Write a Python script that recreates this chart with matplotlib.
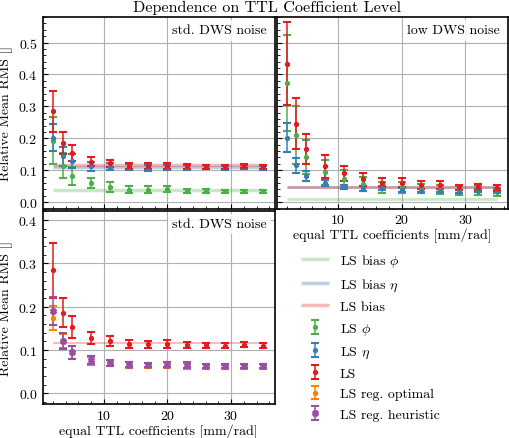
import matplotlib
matplotlib.use("Agg")
import matplotlib.pyplot as plt
import matplotlib.ticker as mticker

plt.rcParams["font.family"] = "serif"
plt.rcParams["font.serif"] = ["cmr10", "DejaVu Serif"]
plt.rcParams["mathtext.fontset"] = "cm"
plt.rcParams["axes.formatter.use_mathtext"] = True
plt.rcParams["font.size"] = 10
plt.rcParams["axes.linewidth"] = 1.2

# ── Data ─────────────────────────────────────────────────────────────────────
TTL = [2, 3.5, 5, 8, 11, 14, 17, 20, 23, 26, 29, 32, 35]

# std. DWS noise
STD_LS = [0.284, 0.186, 0.153, 0.127, 0.121, 0.114, 0.113, 0.113, 0.112, 0.111, 0.110, 0.112, 0.110]
STD_LS_ERR = [0.063, 0.034, 0.025, 0.014, 0.011, 0.010, 0.008, 0.009, 0.007, 0.006, 0.006, 0.006, 0.006]
STD_ETA = [0.202, 0.143, 0.130, 0.112, 0.111, 0.109, 0.107, 0.109, 0.109, 0.109, 0.107, 0.109, 0.108]
STD_ETA_ERR = [0.043, 0.030, 0.022, 0.014, 0.010, 0.009, 0.009, 0.008, 0.007, 0.006, 0.007, 0.006, 0.006]
STD_PHI = [0.193, 0.114, 0.081, 0.060, 0.048, 0.039, 0.039, 0.040, 0.035, 0.035, 0.034, 0.034, 0.034]
STD_PHI_ERR = [0.073, 0.040, 0.028, 0.016, 0.015, 0.010, 0.010, 0.009, 0.006, 0.006, 0.005, 0.005, 0.005]
STD_OPT = [0.174, 0.121, 0.094, 0.075, 0.069, 0.065, 0.064, 0.065, 0.063, 0.062, 0.061, 0.062, 0.062]
STD_OPT_ERR = [0.027, 0.016, 0.016, 0.009, 0.007, 0.006, 0.005, 0.006, 0.006, 0.005, 0.005, 0.005, 0.005]
STD_HEU = [0.190, 0.120, 0.095, 0.076, 0.070, 0.066, 0.065, 0.066, 0.065, 0.063, 0.0625, 0.063, 0.063]
STD_HEU_ERR = [0.033, 0.019, 0.015, 0.009, 0.007, 0.006, 0.005, 0.006, 0.006, 0.005, 0.005, 0.005, 0.005]
STD_BIAS = 0.116
STD_BIAS_ETA = 0.111
STD_BIAS_PHI = 0.037

# low DWS noise
LOW_LS = [0.434, 0.245, 0.166, 0.112, 0.090, 0.072, 0.061, 0.061, 0.054, 0.053, 0.046, 0.048, 0.045]
LOW_LS_ERR = [0.129, 0.080, 0.046, 0.035, 0.024, 0.020, 0.014, 0.014, 0.013, 0.012, 0.009, 0.010, 0.009]
LOW_ETA = [0.202, 0.115, 0.082, 0.059, 0.048, 0.043, 0.043, 0.038, 0.036, 0.036, 0.033, 0.036, 0.035]
LOW_ETA_ERR = [0.046, 0.024, 0.017, 0.010, 0.007, 0.007, 0.006, 0.006, 0.005, 0.005, 0.005, 0.005, 0.005]
LOW_PHI = [0.374, 0.211, 0.141, 0.093, 0.073, 0.058, 0.045, 0.046, 0.042, 0.039, 0.035, 0.037, 0.032]
LOW_PHI_ERR = [0.150, 0.091, 0.054, 0.040, 0.027, 0.022, 0.017, 0.018, 0.015, 0.015, 0.014, 0.014, 0.013]
LOW_BIAS = 0.048
LOW_BIAS_ETA = 0.048
LOW_BIAS_PHI = 0.009

# ── Style ─────────────────────────────────────────────────────────────────────
C_RED = "#e41a1c"
C_BLUE = "#377eb8"
C_GREEN = "#4daf4a"
C_ORANGE = "#ff7f00"
C_PURPLE = "#984ea3"

EB = dict(fmt="o", markersize=2.8, capsize=2.8, capthick=1.5, elinewidth=1.1, linestyle="none")

W, H = 509, 439
fig = plt.figure(figsize=(W / 100, H / 100), dpi=100)


def px_axes(x0, x1, y0, y1, **kw):
    return fig.add_axes([x0 / W, 1 - y1 / H, (x1 - x0) / W, (y1 - y0) / H], **kw)


ax_tl = px_axes(42.5, 275, 18, 209.5)
ax_tr = px_axes(277, 508, 18, 209.5, sharey=ax_tl)
ax_bl = px_axes(42.5, 275, 211.5, 405, sharex=ax_tl)


def bias_lines(ax, b_phi, b_eta, b_ls, lw):
    ax.hlines(b_phi, TTL[0], TTL[-1], color=C_GREEN, alpha=0.3, lw=lw, label=r"LS bias $\phi$")
    ax.hlines(b_eta, TTL[0], TTL[-1], color=C_BLUE, alpha=0.35, lw=lw, label=r"LS bias $\eta$")
    ax.hlines(b_ls, TTL[0], TTL[-1], color=C_RED, alpha=0.3, lw=lw, label="LS bias")


# top left: std. DWS noise
bias_lines(ax_tl, STD_BIAS_PHI, STD_BIAS_ETA, STD_BIAS, 2.5)
ax_tl.errorbar(TTL, STD_PHI, yerr=STD_PHI_ERR, color=C_GREEN, label=r"LS $\phi$", **EB)
ax_tl.errorbar(TTL, STD_ETA, yerr=STD_ETA_ERR, color=C_BLUE, label=r"LS $\eta$", **EB)
ax_tl.errorbar(TTL, STD_LS, yerr=STD_LS_ERR, color=C_RED, label="LS", **EB)

# top right: low DWS noise
bias_lines(ax_tr, LOW_BIAS_PHI, LOW_BIAS_ETA, LOW_BIAS, 2.0)
ax_tr.errorbar(TTL, LOW_PHI, yerr=LOW_PHI_ERR, color=C_GREEN, **EB)
ax_tr.errorbar(TTL, LOW_ETA, yerr=LOW_ETA_ERR, color=C_BLUE, **EB)
ax_tr.errorbar(TTL, LOW_LS, yerr=LOW_LS_ERR, color=C_RED, **EB)

# bottom left: regularised solutions
ax_bl.hlines(STD_BIAS, TTL[0], TTL[-1], color=C_RED, alpha=0.3, lw=1.3)
ax_bl.errorbar(TTL, STD_LS, yerr=STD_LS_ERR, color=C_RED, **EB)
ax_bl.errorbar(TTL, STD_OPT, yerr=STD_OPT_ERR, color=C_ORANGE, label="LS reg. optimal", **EB)
heu = dict(EB, fmt="X", markersize=4.2)
ax_bl.errorbar(TTL, STD_HEU, yerr=STD_HEU_ERR, color=C_PURPLE, label="LS reg. heuristic", **heu)

ax_tl.set_ylim(-0.02, 0.58)
ax_bl.set_ylim(-0.025, 0.422)
ax_tl.set_xlim(0.35, 36.9)
ax_tr.set_xlim(0.45, 36.7)

for ax in (ax_tl, ax_tr, ax_bl):
    ax.grid(True, color="#b0b0b0", lw=0.8)
    ax.set_axisbelow(True)
    ax.xaxis.set_major_locator(mticker.MultipleLocator(10))
    ax.xaxis.set_minor_locator(mticker.AutoMinorLocator())
    ax.yaxis.set_minor_locator(mticker.AutoMinorLocator())
    ax.tick_params(which="both", direction="in")
    ax.tick_params(which="major", length=3.5)
    ax.tick_params(which="minor", length=2)

ax_tl.tick_params(labelbottom=False)
ax_tr.tick_params(labelleft=False)

ax_tl.set_ylabel("Relative Mean RMS []")
ax_bl.set_ylabel("Relative Mean RMS []")
ax_bl.set_xlabel("equal TTL coefficients [mm/rad]", labelpad=1)
ax_tr.set_xlabel("equal TTL coefficients [mm/rad]", labelpad=1)

box = dict(facecolor="white", edgecolor="none", alpha=0.8, pad=3)
ax_tl.text(0.965, 0.93, "std. DWS noise", transform=ax_tl.transAxes, ha="right", va="center", bbox=box)
ax_tr.text(0.965, 0.93, "low DWS noise", transform=ax_tr.transAxes, ha="right", va="center", bbox=box)
ax_bl.text(0.965, 0.93, "std. DWS noise", transform=ax_bl.transAxes, ha="right", va="center", bbox=box)

fig.suptitle("Dependence on TTL Coefficient Level", x=0.525, y=0.982, va="center", fontsize=11.6)

# legend in the empty lower-right cell
h1, l1 = ax_tl.get_legend_handles_labels()
h2, l2 = ax_bl.get_legend_handles_labels()
fig.legend(h1 + h2, l1 + l2, loc="upper left", bbox_to_anchor=(0.58, 0.437),
           frameon=False, borderaxespad=0, labelspacing=0.55)

fig.savefig("out.png", dpi=100)
